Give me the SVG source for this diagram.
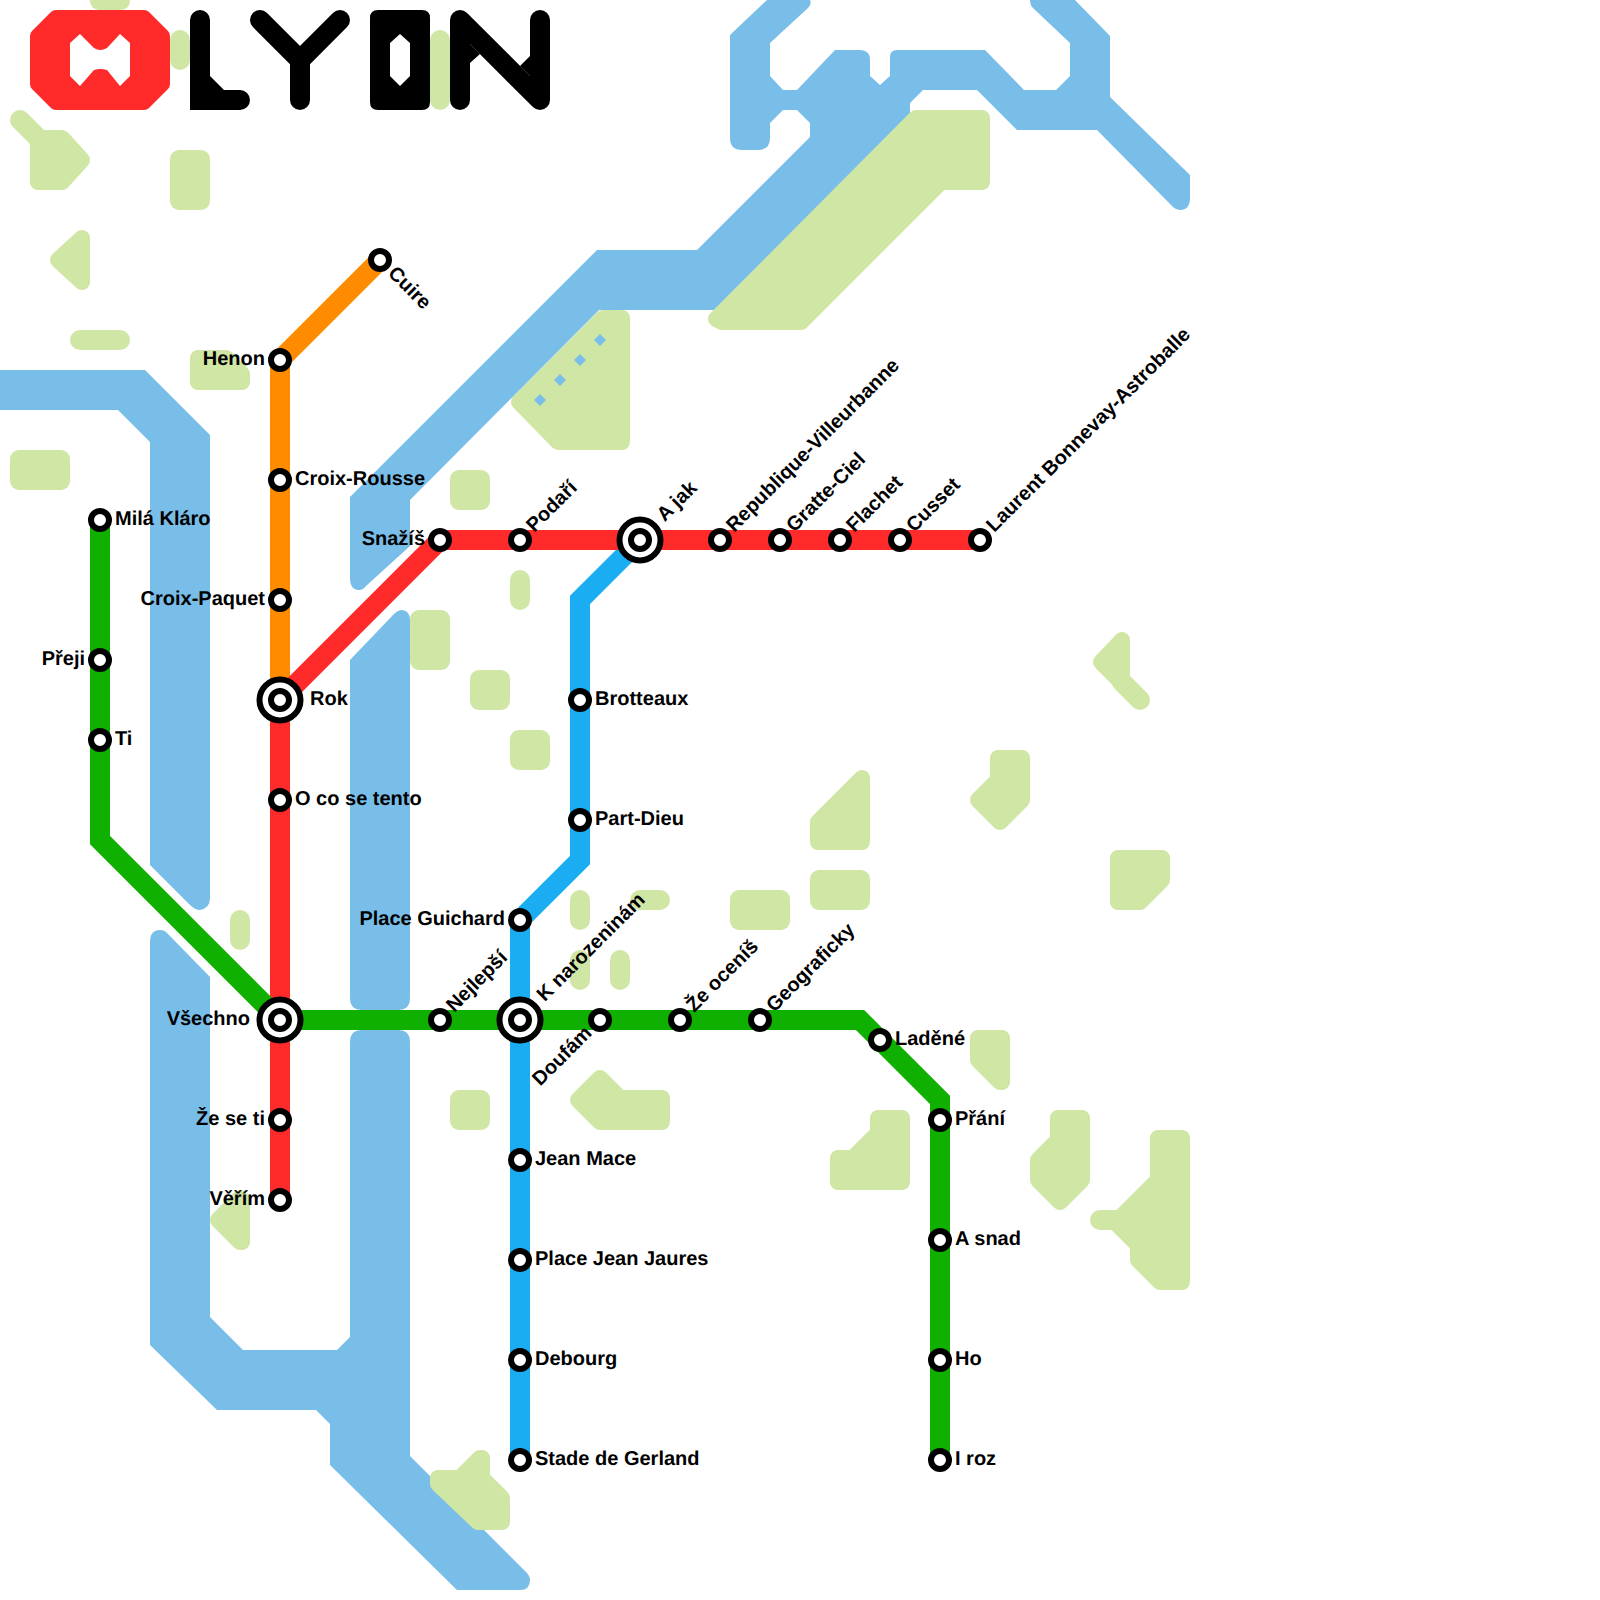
<svg xmlns="http://www.w3.org/2000/svg" width="1600" height="1600" viewBox="0 0 1600 1600">
<style>
.water{fill:#79bde9}
.park{fill:#d0e6a5;stroke:#d0e6a5;stroke-width:16;stroke-linejoin:round}
.parkr{fill:#d0e6a5}
.parkl{fill:none;stroke:#d0e6a5;stroke-width:20;stroke-linecap:round}
.line{fill:none;stroke-width:20;stroke-linejoin:miter;stroke-linecap:butt}
.st{fill:#fff;stroke:#000;stroke-width:6}
.big{fill:#fff;stroke:#000;stroke-width:6}
text{font-family:"Liberation Sans",Arial,sans-serif;font-size:20px;font-weight:bold;fill:#000;text-rendering:geometricPrecision}
.e{text-anchor:end}
.logo{fill:none;stroke:#000;stroke-width:20;stroke-linecap:round}
</style>
<g id="parks">
<rect class="parkr" x="90" y="-30" width="40" height="40" rx="9"/>
<rect class="parkr" x="170" y="30" width="20" height="40" rx="10"/>
<rect class="parkr" x="430" y="30" width="20" height="80" rx="10"/>
<polygon class="park" points="38,138 62,138 82,160 62,182 38,182"/>
<path class="parkl" d="M20,120L45,145"/>
<rect class="parkr" x="170" y="150" width="40" height="60" rx="9"/>
<polygon class="park" points="58,260 82,238 82,282"/>
<rect class="parkr" x="70" y="330" width="60" height="20" rx="10"/>
<polygon class="park" points="198,358 226,358 242,374 242,382 198,382"/>
<rect class="parkr" x="10" y="450" width="60" height="40" rx="9"/>
<polygon class="park" points="519,402 603,318 622,318 622,442 558,442"/>
<rect class="parkr" x="450" y="470" width="40" height="40" rx="9"/>
<rect class="parkr" x="510" y="570" width="20" height="40" rx="10"/>
<rect class="parkr" x="410" y="610" width="40" height="60" rx="9"/>
<rect class="parkr" x="470" y="670" width="40" height="40" rx="9"/>
<rect class="parkr" x="510" y="730" width="40" height="40" rx="9"/>
<polygon class="park" points="1101,662 1122,640 1122,683"/>
<path class="parkl" d="M1122,682L1140,700"/>
<polygon class="park" points="998,758 1022,758 1022,800 1000,822 978,800 998,780"/>
<polygon class="park" points="818,822 862,778 862,842 818,842"/>
<rect class="parkr" x="810" y="870" width="60" height="40" rx="9"/>
<rect class="parkr" x="730" y="890" width="60" height="40" rx="9"/>
<polygon class="park" points="1118,858 1162,858 1162,880 1140,902 1118,902"/>
<rect class="parkr" x="230" y="910" width="20" height="40" rx="10"/>
<rect class="parkr" x="570" y="890" width="20" height="40" rx="10"/>
<rect class="parkr" x="630" y="890" width="40" height="20" rx="10"/>
<rect class="parkr" x="570" y="950" width="20" height="40" rx="10"/>
<rect class="parkr" x="610" y="950" width="20" height="40" rx="10"/>
<polygon class="park" points="978,1038 1002,1038 1002,1082 1000,1082 978,1060"/>
<polygon class="park" points="578,1100 600,1078 620,1098 662,1098 662,1122 600,1122"/>
<rect class="parkr" x="450" y="1090" width="40" height="40" rx="9"/>
<polygon class="park" points="878,1118 902,1118 902,1182 838,1182 838,1158 853,1158 878,1133"/>
<polygon class="park" points="1058,1118 1082,1118 1082,1180 1060,1202 1038,1180 1038,1160 1058,1140"/>
<polygon class="park" points="1158,1138 1182,1138 1182,1282 1160,1282 1138,1260 1138,1245 1115,1222 1120,1218 1158,1180"/>
<path class="parkl" d="M1100,1220L1120,1220"/>
<polygon class="park" points="218,1220 240,1198 242,1200 242,1242 240,1242"/>
</g>
<g id="water">
<path class="water" d="M0,370L145,370L210,435L210,898Q210,908 200,910Q195,910 190,905L150,865L150,442L118,410L0,410Z"/>
<path class="water" d="M150,942Q150,930 160,930Q165,930 168,934L210,977L210,1317L243,1350L337,1350L350,1337L350,1042Q350,1030 362,1030L398,1030Q410,1030 410,1042L410,1456L526,1572Q530,1576 530,1580Q530,1590 520,1590L457,1590L330,1465L330,1424L316,1410L217,1410L150,1345Z"/>
<path class="water" d="M350,660L394,614Q398,610 402,610Q410,611 410,620L410,998Q410,1010 398,1010L362,1010Q350,1010 350,998Z"/>
<path class="water" d="M767,0L730,35L730,138Q730,150 742,150L758,150Q770,150 770,138L770,123L783,110L797,110L810,123L810,137L697,250L597,250L350,497L350,578Q350,590 359,590Q363,590 366,586L410,546L410,500L599,310L716,310L910,116L910,103L923,90L977,90L1017,130L1097,130L1173,207Q1176,210 1180,210Q1190,210 1190,198L1190,175L1110,97L1110,36L1075,0L1030,0Q1030,5 1033,8L1070,43L1070,76L1056,90L1024,90L985,50L897,50Q890,50 890,57L890,76L880,85L870,76L870,60Q870,50 860,50L835,50L797,90L783,90L770,76L770,43L808,8Q812,4 810,0Z"/>
<path class="water" d="M540,394l6,6l-6,6l-6,-6zM560,374l6,6l-6,6l-6,-6zM580,354l6,6l-6,6l-6,-6zM600,334l6,6l-6,6l-6,-6z"/>
</g>
<g id="parks-over-water">
<polygon class="park" points="916,118 982,118 982,182 941,182 801,322 722,322 716,319"/>
<polygon class="park" points="438,1478 460,1478 480,1458 482,1458 482,1478 502,1498 502,1522 478,1522 438,1484"/>
</g>
<g id="logo">
<path d="M56,10L144,10Q147,10 149,12L168,31Q170,33 170,36L170,84Q170,87 168,89L149,108Q147,110 144,110L56,110Q53,110 51,108L32,89Q30,87 30,84L30,36Q30,33 32,31L51,12Q53,10 56,10ZM70,43L70,76L80,86L94,70Q100,68 107,70L120,86L130,76L130,43L120,34L107,48Q100,52 94,48L80,34Z" fill="#ff2a2a" fill-rule="evenodd"/>
<path class="logo" d="M200,20L200,100L240,100"/>
<polygon points="210,76 224,90 210,90" fill="#000"/>
<path class="logo" d="M260,20L300,60L340,20M300,60L300,100"/>
<path d="M378,10L422,10Q430,10 430,18L430,102Q430,110 422,110L378,110Q370,110 370,102L370,18Q370,10 378,10ZM400,34L390,43L390,76L400,86L410,76L410,43Z" fill="#000" fill-rule="evenodd"/>
<path class="logo" stroke-linejoin="round" d="M460,100L460,20L540,100L540,20"/>
<polygon points="470,63 480,54 470,44" fill="#000"/>
<polygon points="530,56 520,66 530,76" fill="#000"/>
</g>
<g id="connectors">
<path class="line" stroke="#ff8c00" d="M380,260L280,360L280,700"/>
<path class="line" stroke="#1badf2" d="M640,540L580,600L580,860L520,920L520,1460"/>
<path class="line" stroke="#ff2a2a" d="M280,1200L280,700L440,540L980,540"/>
<path class="line" stroke="#10b000" d="M100,520L100,840L280,1020L860,1020L940,1100L940,1460"/>
</g>
<g id="nodes">
<g id="cuire"><circle class="st" cx="380" cy="260" r="9"/><text x="395" y="265" transform="rotate(45 380 260)">Cuire</text></g>
<g id="henon"><circle class="st" cx="280" cy="360" r="9"/><text class="e" x="265" y="365">Henon</text></g>
<g id="croix-rousse"><circle class="st" cx="280" cy="480" r="9"/><text x="295" y="485">Croix-Rousse</text></g>
<g id="croix-paquet"><circle class="st" cx="280" cy="600" r="9"/><text class="e" x="265" y="605">Croix-Paquet</text></g>
<g id="rok"><circle class="big" cx="280" cy="700" r="20.5"/><circle class="st" cx="280" cy="700" r="9"/><text x="310" y="705">Rok</text></g>
<g id="o-co"><circle class="st" cx="280" cy="800" r="9"/><text x="295" y="805">O co se tento</text></g>
<g id="vsechno"><circle class="big" cx="280" cy="1020" r="20.5"/><circle class="st" cx="280" cy="1020" r="9"/><text class="e" x="250" y="1025">Všechno</text></g>
<g id="ze-se-ti"><circle class="st" cx="280" cy="1120" r="9"/><text class="e" x="265" y="1125">Že se ti</text></g>
<g id="verim"><circle class="st" cx="280" cy="1200" r="9"/><text class="e" x="265" y="1205">Věřím</text></g>
<g id="snazis"><circle class="st" cx="440" cy="540" r="9"/><text class="e" x="425" y="545">Snažíš</text></g>
<g id="podari"><circle class="st" cx="520" cy="540" r="9"/><text x="535" y="545" transform="rotate(-45 520 540)">Podaří</text></g>
<g id="a-jak"><circle class="big" cx="640" cy="540" r="20.5"/><circle class="st" cx="640" cy="540" r="9"/><text x="670" y="545" transform="rotate(-45 640 540)">A jak</text></g>
<g id="republique"><circle class="st" cx="720" cy="540" r="9"/><text x="735" y="545" transform="rotate(-45 720 540)">Republique-Villeurbanne</text></g>
<g id="gratte"><circle class="st" cx="780" cy="540" r="9"/><text x="795" y="545" transform="rotate(-45 780 540)">Gratte-Ciel</text></g>
<g id="flachet"><circle class="st" cx="840" cy="540" r="9"/><text x="855" y="545" transform="rotate(-45 840 540)">Flachet</text></g>
<g id="cusset"><circle class="st" cx="900" cy="540" r="9"/><text x="915" y="545" transform="rotate(-45 900 540)">Cusset</text></g>
<g id="laurent"><circle class="st" cx="980" cy="540" r="9"/><text x="995" y="545" transform="rotate(-45 980 540)">Laurent Bonnevay-Astroballe</text></g>
<g id="mila"><circle class="st" cx="100" cy="520" r="9"/><text x="115" y="525">Milá Kláro</text></g>
<g id="preji"><circle class="st" cx="100" cy="660" r="9"/><text class="e" x="85" y="665">Přeji</text></g>
<g id="ti"><circle class="st" cx="100" cy="740" r="9"/><text x="115" y="745">Ti</text></g>
<g id="nejlepsi"><circle class="st" cx="440" cy="1020" r="9"/><text x="455" y="1025" transform="rotate(-45 440 1020)">Nejlepší</text></g>
<g id="k-narozeninam"><circle class="big" cx="520" cy="1020" r="20.5"/><circle class="st" cx="520" cy="1020" r="9"/><text x="550" y="1025" transform="rotate(-45 520 1020)">K narozeninám</text></g>
<g id="doufam"><circle class="st" cx="600" cy="1020" r="9"/><text class="e" x="585" y="1025" transform="rotate(-45 600 1020)">Doufám</text></g>
<g id="ze-ocenis"><circle class="st" cx="680" cy="1020" r="9"/><text x="695" y="1025" transform="rotate(-45 680 1020)">Že oceníš</text></g>
<g id="geograficky"><circle class="st" cx="760" cy="1020" r="9"/><text x="775" y="1025" transform="rotate(-45 760 1020)">Geograficky</text></g>
<g id="ladene"><circle class="st" cx="880" cy="1040" r="9"/><text x="895" y="1045">Laděné</text></g>
<g id="prani"><circle class="st" cx="940" cy="1120" r="9"/><text x="955" y="1125">Přání</text></g>
<g id="a-snad"><circle class="st" cx="940" cy="1240" r="9"/><text x="955" y="1245">A snad</text></g>
<g id="ho"><circle class="st" cx="940" cy="1360" r="9"/><text x="955" y="1365">Ho</text></g>
<g id="i-roz"><circle class="st" cx="940" cy="1460" r="9"/><text x="955" y="1465">I roz</text></g>
<g id="brotteaux"><circle class="st" cx="580" cy="700" r="9"/><text x="595" y="705">Brotteaux</text></g>
<g id="part-dieu"><circle class="st" cx="580" cy="820" r="9"/><text x="595" y="825">Part-Dieu</text></g>
<g id="place-guichard"><circle class="st" cx="520" cy="920" r="9"/><text class="e" x="505" y="925">Place Guichard</text></g>
<g id="jean-mace"><circle class="st" cx="520" cy="1160" r="9"/><text x="535" y="1165">Jean Mace</text></g>
<g id="place-jean-jaures"><circle class="st" cx="520" cy="1260" r="9"/><text x="535" y="1265">Place Jean Jaures</text></g>
<g id="debourg"><circle class="st" cx="520" cy="1360" r="9"/><text x="535" y="1365">Debourg</text></g>
<g id="stade"><circle class="st" cx="520" cy="1460" r="9"/><text x="535" y="1465">Stade de Gerland</text></g>
</g>
</svg>
